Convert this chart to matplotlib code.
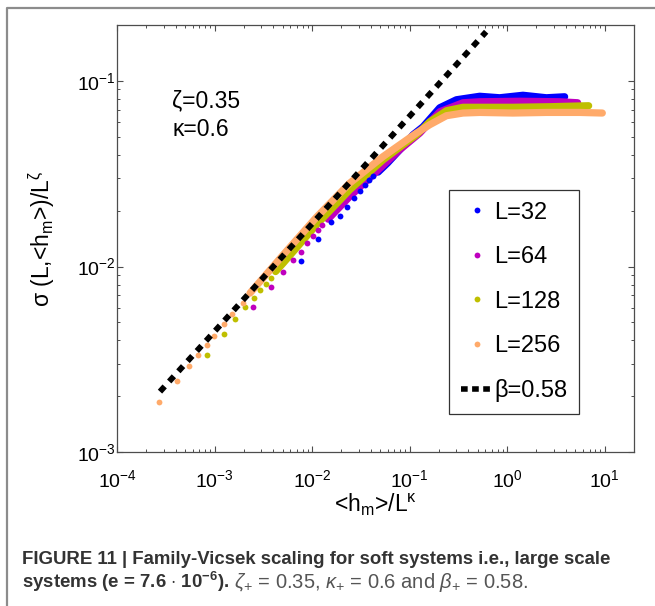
import matplotlib
matplotlib.use('Agg')
import matplotlib.pyplot as plt
from matplotlib.lines import Line2D

plt.rcParams['font.family'] = ['Liberation Sans', 'DejaVu Sans']
plt.rcParams['mathtext.fontset'] = 'custom'
plt.rcParams['mathtext.rm'] = 'Liberation Sans'
plt.rcParams['mathtext.it'] = 'Liberation Sans:italic'
plt.rcParams['mathtext.bf'] = 'Liberation Sans:bold'

# --- data ---
# discrete points at small <h_m>/L^k, then the dense band
l32_x = [7.62e-3, 0.01155, 0.01547, 0.01927, 0.0230, 0.0270, 0.0309, 0.03475, 0.03846, 0.04227]
l32_y = [0.01067, 0.0141, 0.01735, 0.01883, 0.0209, 0.02326, 0.02537, 0.02733, 0.02908, 0.03056]
l32_band_x = [0.04757, 0.05936, 0.07934, 0.1086, 0.1375, 0.2039, 0.3022, 0.5236, 0.8395, 1.455, 2.527, 3.89]
l32_band_y = [0.03227, 0.03609, 0.04257, 0.05129, 0.05663, 0.07168, 0.07916, 0.08266, 0.08114, 0.0837, 0.08114, 0.08216]

l64_x = [2.50e-3, 3.76e-3, 4.98e-3, 6.33e-3, 7.62e-3, 8.91e-3, 0.01019, 0.01147, 0.01275]
l64_y = [6.04e-3, 7.80e-3, 9.39e-3, 0.0108, 0.0120, 0.01334, 0.01464, 0.01567, 0.01672]
l64_band_x = [0.01462, 0.02437, 0.04581, 0.07934, 0.1272, 0.2039, 0.3532, 0.5236, 1.346, 3.459, 5.289]
l64_band_y = [0.0180, 0.02384, 0.03251, 0.04257, 0.05237, 0.06823, 0.07627, 0.07722, 0.0777, 0.07722, 0.07627]

l128_x = [8.30e-4, 1.24e-3, 1.64e-3, 2.05e-3, 2.52e-3, 2.96e-3, 3.34e-3, 3.76e-3]
l128_y = [3.34e-3, 4.35e-3, 5.25e-3, 6.04e-3, 6.75e-3, 7.46e-3, 8.07e-3, 8.73e-3]
l128_band_x = [4.23e-3, 5.06e-3, 0.01112, 0.02437, 0.05353, 0.1177, 0.1611, 0.2388, 0.3532, 1.14, 2.73, 6.86]
l128_band_y = [9.40e-3, 0.01043, 0.01679, 0.02591, 0.03758, 0.05129, 0.06026, 0.06908, 0.0721, 0.0721, 0.0726, 0.0735]

l256_x = [2.71e-4, 4.09e-4, 5.43e-4, 6.71e-4, 8.30e-4, 9.79e-4, 1.24e-3, 1.51e-3, 1.94e-3]
l256_y = [1.86e-3, 2.43e-3, 2.93e-3, 3.35e-3, 3.78e-3, 4.23e-3, 4.89e-3, 5.56e-3, 6.35e-3]
l256_band_x = [2.31e-3, 5.06e-3, 0.01112, 0.02437, 0.05314, 0.1177, 0.1611, 0.2388, 0.3532, 0.5236, 1.149, 2.527, 5.544, 9.47]
l256_band_y = [7.19e-3, 0.01156, 0.01846, 0.02816, 0.03903, 0.05237, 0.05808, 0.06494, 0.06714, 0.06764, 0.06714, 0.06764, 0.06764, 0.06714]

beta_x = [2.76e-4, 0.61]
beta_y = [2.12e-3, 0.184]

labels = ['L=32', 'L=64', 'L=128', 'L=256']
colors = ['#0000ff', '#bf00bf', '#bfbf00', '#ffaa6a']

fig = plt.figure(figsize=(6.55, 6.06), dpi=100)
ax = fig.add_axes([0.1786, 0.2538, 0.7893, 0.7049])

series = [(l32_x, l32_y, l32_band_x, l32_band_y),
          (l64_x, l64_y, l64_band_x, l64_band_y),
          (l128_x, l128_y, l128_band_x, l128_band_y),
          (l256_x, l256_y, l256_band_x, l256_band_y)]
for (px, py, bx, by), c in zip(series, colors):
    ax.plot(bx, by, '-', color=c, lw=5.2, solid_capstyle='round',
            solid_joinstyle='round', zorder=2)
    ax.plot(px, py, 'o', color=c, ms=4.2, mew=0, zorder=3)

ax.plot(beta_x, beta_y, color='k', lw=4.2, ls=(0, (1.2, 1.15)), zorder=5)

ax.set_xscale('log')
ax.set_yscale('log')
ax.set_xlim(1e-4, 20)
ax.set_ylim(1e-3, 0.2)

for s in ax.spines.values():
    s.set_color('0.3')
    s.set_linewidth(0.9)
ax.tick_params(which='both', direction='in', top=True, right=True, colors='0.3',
               labelcolor='black', labelsize=14)
ax.tick_params(which='major', length=4, width=0.8)
ax.tick_params(which='minor', length=2.2, width=0.7)
ax.tick_params(axis='x', pad=12)
ax.tick_params(axis='y', pad=1)

ax.set_xlabel(r'<h$_{\rm m}$>/L$^{\rm κ}$', fontsize=16.5)
ax.xaxis.set_label_coords(0.5, -0.092)
ax.set_ylabel(r'σ (L,<h$_{\rm m}$>)/L$^{\rm ζ}$', fontsize=16.5)
ax.yaxis.set_label_coords(-0.116, 0.5)

ax.text(0.107, 0.823, 'ζ=0.35', transform=ax.transAxes, fontsize=16.5, va='center')
ax.text(0.107, 0.755, 'κ=0.6', transform=ax.transAxes, fontsize=16.5, va='center')

handles = [Line2D([], [], marker='o', ls='none', color=c, ms=4.2, mew=0) for c in colors]
handles.append(Line2D([], [], color='k', lw=4, ls=(0, (1.2, 0.8))))
leg = ax.legend(handles, labels + ['β=0.58'], loc='upper left',
                bbox_to_anchor=(0.642, 0.614), borderaxespad=0, fontsize=17,
                fancybox=False, framealpha=1, edgecolor='0.2', labelspacing=0.95,
                handlelength=1.35, handletextpad=0.08, borderpad=0.5)
leg.get_frame().set_linewidth(0.9)

# border around the figure panel
fig.add_artist(Line2D([7 / 655, 7 / 655, 1.0], [0.0, 1 - 7.5 / 606, 1 - 7.5 / 606],
                      transform=fig.transFigure, color='#8c8c8c', lw=1.6))

# caption, first line sized to span the same width as in the figure
cap_color = '#333333'
t1 = fig.text(22 / 655, 1 - 564 / 606,
              'FIGURE 11 | Family-Vicsek scaling for soft systems i.e., large scale',
              weight='bold', fontsize=13, color=cap_color, va='baseline')
fig.canvas.draw()
w = t1.get_window_extent().width
cap_size = 13 * 590 / w
t1.set_fontsize(cap_size)
t2 = fig.text(22 / 655, 1 - 588 / 606,
              r'systems ($\mathbf{e}$ = 7.6 $\mathbf{\cdot}$ 10$^{\mathbf{-6}}$).',
              weight='bold', fontsize=cap_size, color=cap_color, va='baseline')
fig.canvas.draw()
bb = t2.get_window_extent()
fig.text((bb.x1 + 5) / 655, 1 - 588 / 606,
         r'$\zeta_{+}$ = 0.35, $\kappa_{+}$ = 0.6 and $\beta_{+}$ = 0.58.',
         fontsize=cap_size * 1.08, color='#555555', va='baseline')

fig.savefig('out.png', dpi=100)
